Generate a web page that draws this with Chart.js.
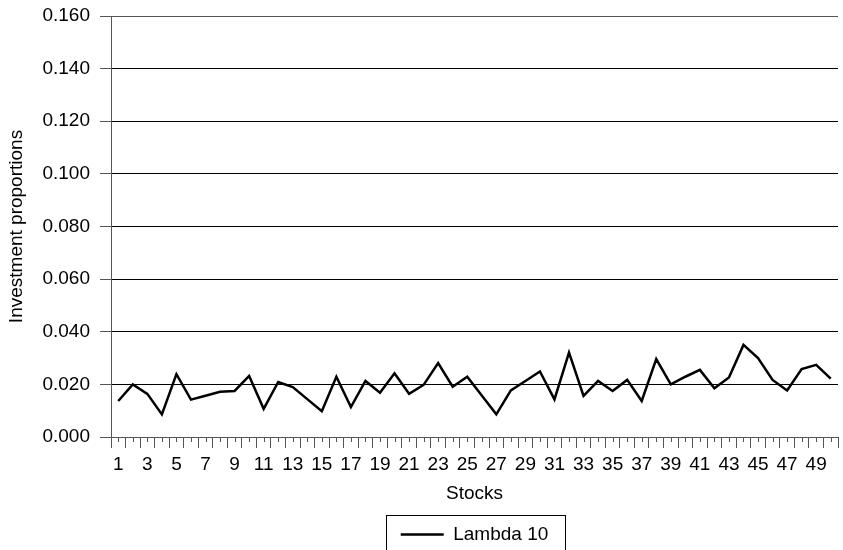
<!DOCTYPE html>
<html>
<head>
<meta charset="utf-8">
<script src="https://cdn.jsdelivr.net/npm/chart.js@4/dist/chart.umd.min.js"></script>
<style>
  html, body { margin: 0; padding: 0; background: #fff; }
  #wrap { width: 843px; height: 550px; }
</style>
</head>
<body>
<div id="wrap"><canvas id="chart" width="843" height="550"></canvas></div>
<script>
// stock numbers 1..50
var stocks = [];
for (var s = 1; s <= 50; s++) stocks.push(String(s));

// investment proportions
var lambda10 = [
  0.0137, 0.0200, 0.0164, 0.0086, 0.0239, 0.0142, 0.0157, 0.0172, 0.0175, 0.0232,
  0.0107, 0.0209, 0.0190, 0.0144, 0.0098, 0.0229, 0.0114, 0.0213, 0.0168, 0.0242,
  0.0164, 0.0198, 0.0281, 0.0191, 0.0229, 0.0158, 0.0086, 0.0177, 0.0213, 0.0249,
  0.0143, 0.0321, 0.0156, 0.0213, 0.0175, 0.0217, 0.0137, 0.0296, 0.0200, 0.0229,
  0.0255, 0.0185, 0.0226, 0.0350, 0.0300, 0.0217, 0.0177, 0.0258, 0.0274, 0.0222
];

var yMin = 0, yMax = 0.16, yStep = 0.02;
var fontFamily = "'Liberation Sans', Arial, sans-serif";
var axisGray = '#555';

// short ticks at the middle of each category
var minorTicks = {
  id: 'minorTicks',
  afterDraw: function (chart) {
    var xs = chart.scales.x, ctx = chart.ctx;
    ctx.save();
    ctx.strokeStyle = axisGray;
    ctx.lineWidth = 1;
    for (var i = 0; i < stocks.length; i++) {
      var px = Math.round(xs.getPixelForValue(i)) + 0.5;
      ctx.beginPath();
      ctx.moveTo(px, xs.top);
      ctx.lineTo(px, xs.top + 5);
      ctx.stroke();
    }
    ctx.restore();
  }
};

// frame round the legend
var legendFrame = {
  id: 'legendFrame',
  afterDraw: function (chart) {
    var hb = chart.legend.legendHitBoxes[0];
    if (!hb) return;
    var ctx = chart.ctx;
    ctx.save();
    ctx.strokeStyle = '#000';
    ctx.lineWidth = 1;
    ctx.strokeRect(Math.round(hb.left - 15) + 0.5, Math.round(hb.top - 10) + 0.5, Math.round(hb.width + 31), 60);
    ctx.restore();
  }
};

var ctx = document.getElementById('chart');
var myChart = new Chart(ctx, {
  type: 'line',
  data: {
    labels: stocks,
    datasets: [{
      label: 'Lambda 10',
      data: lambda10,
      borderColor: '#000',
      backgroundColor: '#000',
      borderWidth: 2.5,
      pointRadius: 0,
      tension: 0,
      fill: false
    }]
  },
  options: {
    responsive: false,
    animation: false,
    layout: { padding: { top: 16, right: 5, left: 0, bottom: -4 } },
    plugins: {
      tooltip: { enabled: false },
      legend: {
        position: 'bottom',
        fullSize: false,
        labels: {
          color: '#000',
          font: { family: fontFamily, size: 19 },
          boxWidth: 43,
          boxHeight: 0,
          padding: 7
        }
      }
    },
    scales: {
      x: {
        type: 'category',
        offset: true,
        afterFit: function (scale) { scale.height = 81; },
        border: { color: axisGray, width: 1 },
        grid: {
          offset: true,
          drawOnChartArea: false,
          drawTicks: true,
          tickLength: 11,
          tickColor: axisGray
        },
        ticks: {
          autoSkip: false,
          maxRotation: 0,
          padding: 5,
          color: '#000',
          font: { family: fontFamily, size: 19 },
          callback: function (value, index) {
            return index % 2 === 0 ? stocks[index] : '';
          }
        },
        title: {
          display: true,
          text: 'Stocks',
          color: '#000',
          font: { family: fontFamily, size: 19 },
          padding: { top: 0, bottom: 13 }
        }
      },
      y: {
        min: yMin,
        max: yMax,
        afterFit: function (scale) {
          scale.width = 111;
          scale.paddingTop = 0;
          scale.paddingBottom = 0;
        },
        border: { color: axisGray, width: 1 },
        grid: {
          color: function (c) {
            return c.tick && Math.abs(c.tick.value - yMax) < 1e-9 ? axisGray : '#000';
          },
          lineWidth: 1,
          drawTicks: true,
          tickLength: 11,
          tickColor: axisGray
        },
        ticks: {
          stepSize: yStep,
          padding: 10,
          color: '#000',
          font: { family: fontFamily, size: 19 },
          callback: function (value) { return Number(value).toFixed(3); }
        },
        title: {
          display: true,
          text: 'Investment proportions',
          color: '#000',
          font: { family: fontFamily, size: 19 },
          padding: { top: 5, bottom: 0 }
        }
      }
    }
  },
  plugins: [minorTicks, legendFrame]
});
</script>
</body>
</html>
